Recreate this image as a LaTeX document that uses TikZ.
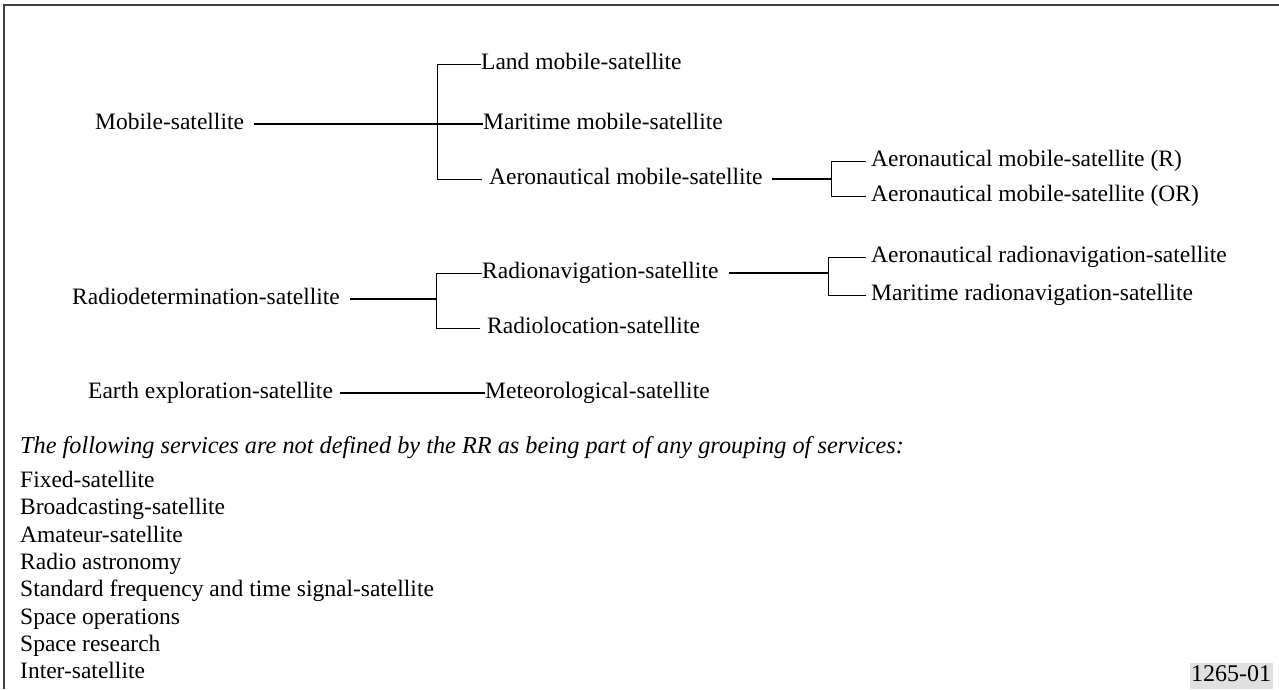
\documentclass[tikz,border=0pt]{standalone}
\usepackage{fontspec}
\setmainfont{Liberation Serif}
\begin{document}
\begin{tikzpicture}[x=1pt,y=-1pt,
  lbl/.style={anchor=west, inner sep=0pt, text height=16pt, text depth=5pt, font=\fontsize{23.5}{27.5}\selectfont},
  note/.style={lbl, font=\fontsize{24.3}{28}\selectfont\itshape},
  main/.style={line width=2pt},
  br/.style={line width=1pt},
  frame/.style={line width=1.3pt, black!75}]
\useasboundingbox (0,0) rectangle (1279,689);
\draw[frame] (4,689) -- (4,5) -- (1279,5);
% tree 1
\node[lbl] (ms) at (95,124) {Mobile-satellite};
\node[lbl] (land) at (481,64) {Land mobile-satellite};
\node[lbl] (mar) at (483,124) {Maritime mobile-satellite};
\node[lbl] (aero) at (489,179) {Aeronautical mobile-satellite};
\node[lbl] (aeroR) at (871,161) {Aeronautical mobile-satellite (R)};
\node[lbl] (aeroOR) at (871,196) {Aeronautical mobile-satellite (OR)};
\coordinate (b1) at (437,0);
\coordinate (b2) at (831,0);
\draw[main] ([xshift=10pt]ms.east) -- (mar.west);
\draw[br] (land.west) -- (land.west -| b1) -- (aero.west -| b1) -- ([xshift=-7pt]aero.west);
\draw[main] ([xshift=9pt]aero.east) -- (aero.east -| b2);
\draw[br] ([xshift=-5pt]aeroR.west) -- (aeroR.west -| b2) -- (aeroOR.west -| b2) -- ([xshift=-5pt]aeroOR.west);
% tree 2
\node[lbl] (rdet) at (72,299) {Radiodetermination-satellite};
\node[lbl] (rnav) at (482,273) {Radionavigation-satellite};
\node[lbl] (rloc) at (487,328) {Radiolocation-satellite};
\node[lbl] (arn) at (871,257) {Aeronautical radionavigation-satellite};
\node[lbl] (mrn) at (871,295) {Maritime radionavigation-satellite};
\coordinate (b3) at (436,0);
\coordinate (b4) at (828,0);
\draw[main] ([xshift=10pt]rdet.east) -- (rdet.east -| b3);
\draw[br] (rnav.west) -- (rnav.west -| b3) -- (rloc.west -| b3) -- ([xshift=-7pt]rloc.west);
\draw[main] ([xshift=10pt]rnav.east) -- (rnav.east -| b4);
\draw[br] ([xshift=-5pt]arn.west) -- (arn.west -| b4) -- (mrn.west -| b4) -- ([xshift=-5pt]mrn.west);
% tree 3
\node[lbl] (earth) at (88,393) {Earth exploration-satellite};
\node[lbl] (met) at (485,393) {Meteorological-satellite};
\draw[main] ([xshift=7pt]earth.east) -- (met.west);
% list
\node[note] (nt) at (20,448) {The following services are not defined by the RR as being part of any grouping of services:};
\node[lbl] (l1) at (20,482) {Fixed-satellite};
\node[lbl] (l2) at (20,509.3) {Broadcasting-satellite};
\node[lbl] (l3) at (20,536.6) {Amateur-satellite};
\node[lbl] (l4) at (20,563.9) {Radio astronomy};
\node[lbl] (l5) at (20,591.2) {Standard frequency and time signal-satellite};
\node[lbl] (l6) at (20,618.5) {Space operations};
\node[lbl] (l7) at (20,645.8) {Space research};
\node[lbl] (l8) at (20,673.1) {Inter-satellite};
\node[fill=black!12, inner xsep=1.5pt, inner ysep=2.5pt, text height=16.5pt, text depth=5pt, font=\fontsize{24}{28}\selectfont] (fig) at (1231,676) {1265-01};
\end{tikzpicture}
\end{document}
